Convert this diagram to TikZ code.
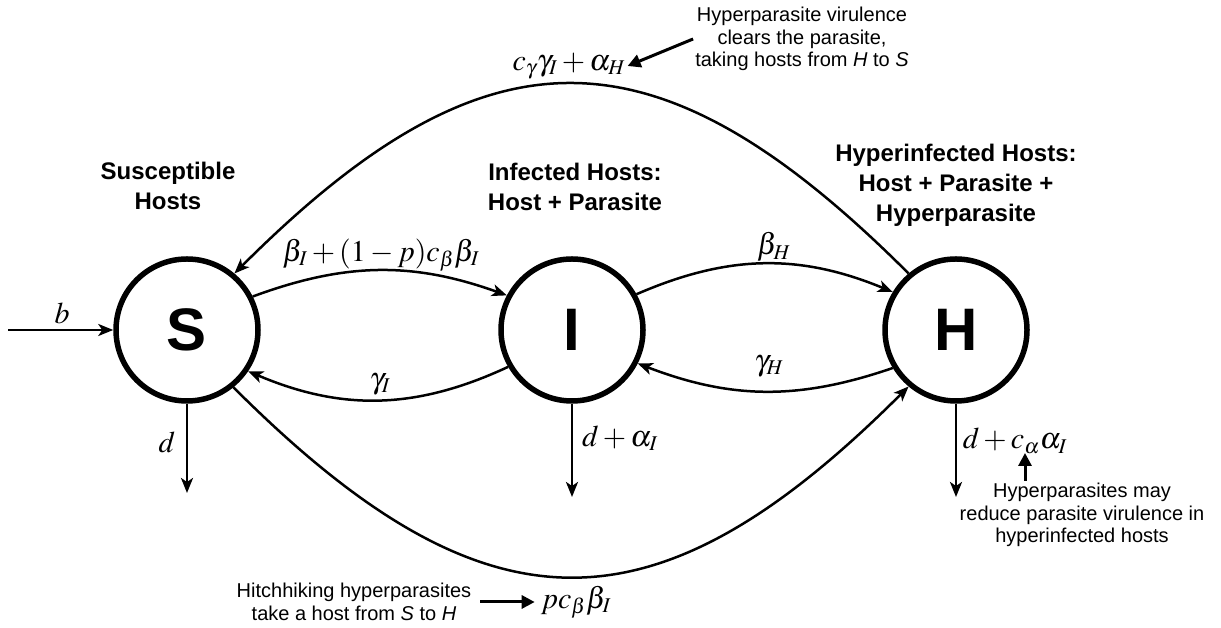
\documentclass[tikz,border=0pt]{standalone}
\usepackage[no-math]{fontspec}
\usepackage{mathptmx}
\DeclareMathSizes{30}{30}{21}{15}
\newfontfamily\hfont{Liberation Sans}
\usetikzlibrary{arrows.meta}

\tikzset{
  state/.style={circle,draw,line width=5.5pt,minimum size=142pt,inner sep=0pt,
    font=\hfont\bfseries\fontsize{60}{60}\selectfont},
  flow/.style={line width=2.5pt,-{Stealth[length=15pt,width=12pt,inset=4pt]}},
  pointer/.style={line width=3pt,-{Triangle[length=13pt,width=13pt]}},
  rate/.style={inner sep=2pt,font=\fontsize{30}{36}\selectfont},
  title/.style={align=center,inner sep=2pt,font=\hfont\bfseries\fontsize{24}{30}\selectfont},
  note/.style={align=center,inner sep=2pt,font=\hfont\fontsize{20}{22.5}\selectfont},
}

\begin{document}
\begin{tikzpicture}[x=1pt,y=1pt]
    \useasboundingbox (0,0) rectangle (1221,628);

    % States
    \node [state] (S) at (187,298) {S};
    \node [state] (I) at (572,298) {I};
    \node [state] (H) at (956,298) {H};

    \node [title] (tS) at (168,442) {Susceptible\\Hosts};
    \node [title] (tI) at (575,441) {Infected Hosts:\\Host + Parasite};
    \node [title] (tH) at (956,443) {Hyperinfected Hosts:\\Host + Parasite +\\Hyperparasite};

    % Transitions
    \draw [flow] (S.27) to[bend left=20] (I.152);
    \draw [flow] (I.210) to[bend left=24] (S.326);
    \draw [flow] (I.29) to[bend left=23] (H.149);
    \draw [flow] (H.211) to[bend left=20] (I.333);
    \draw [flow] (H.130) to[out=135,in=45,looseness=1.36] (S.50);
    \draw [flow] (S.309) to[out=-45,in=225,looseness=1.36] (H.230);

    % Births and deaths
    \coordinate (bin) at (8,298);
    \coordinate (Sout) at (187,135);
    \coordinate (Iout) at (572,131);
    \coordinate (Hout) at (956,131);
    \draw [flow] (bin) -- (S);
    \draw [flow] (S) -- (Sout);
    \draw [flow] (I) -- (Iout);
    \draw [flow] (H) -- (Hout);

    % Rates
    \node [rate] (rb)   at (62,315)  {$b$};
    \node [rate] (rSI)  at (381,373) {$\beta_I+(1-p)c_\beta\beta_I$};
    \node [rate] (rIS)  at (380,244) {$\gamma_I$};
    \node [rate] (rIH)  at (774,381) {$\beta_H$};
    \node [rate] (rHI)  at (769,262) {$\gamma_H$};
    \node [rate] (rHS)  at (569,562) {$c_\gamma\gamma_I+\alpha_H$};
    \node [rate] (rSH)  at (576,26)  {$pc_\beta\beta_I$};
    \node [rate] (rSd)  at (167,186) {$d$};
    \node [rate] (rId)  at (620,190) {$d+\alpha_I$};
    \node [rate] (rHd)  at (1015,187) {$d+c_\alpha\alpha_I$};

    % Notes
    \node [note] (clear) at (802,589)
        {Hyperparasite virulence\\clears the parasite,\\taking hosts from \textit{H} to \textit{S}};
    \node [note] (reduce) at (1082,113)
        {Hyperparasites may\\reduce parasite virulence in\\hyperinfected hosts};
    \node [note] (hitch) at (354,26)
        {Hitchhiking hyperparasites\\take a host from \textit{S} to \textit{H}};

    \coordinate (calpha) at (1025,175);
    \draw [pointer] (clear.west) -- (rHS.east);
    \draw [pointer] (calpha |- reduce.north) -- (calpha);
    \draw [pointer,shorten <=7pt,shorten >=4pt] (hitch.east) -- (rSH.west);
\end{tikzpicture}
\end{document}
